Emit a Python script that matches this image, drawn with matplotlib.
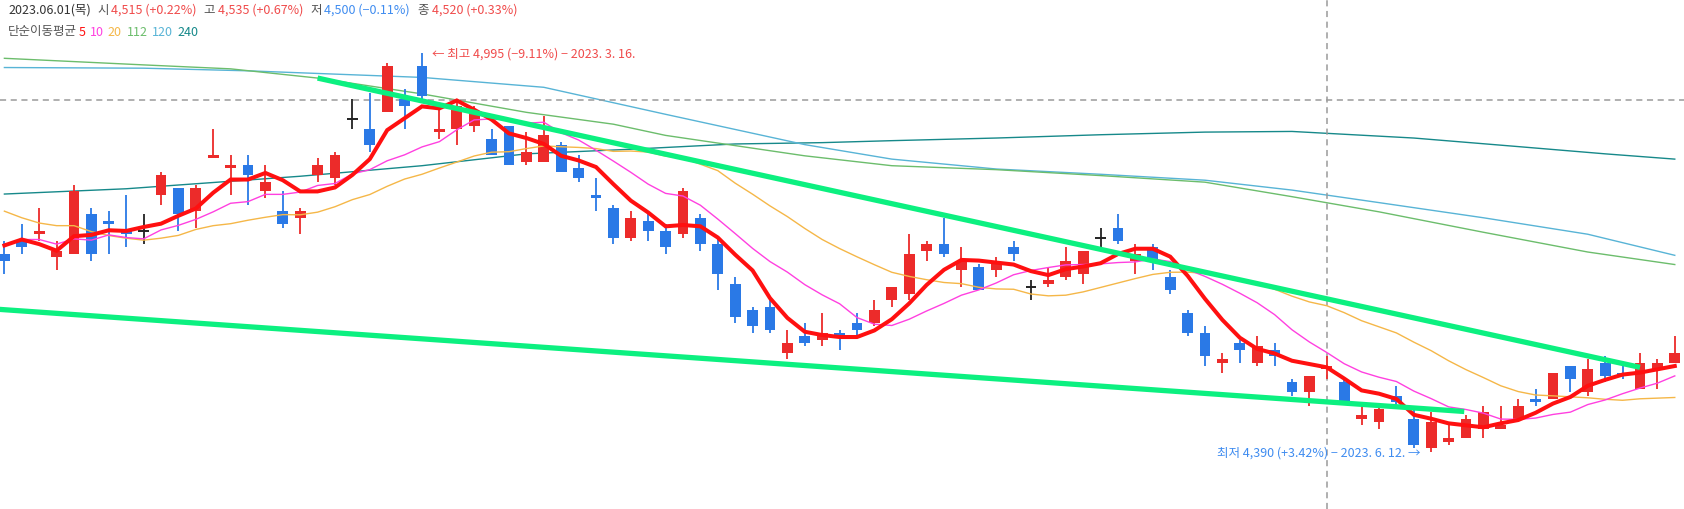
import numpy as np
import pandas as pd
import matplotlib
matplotlib.use('Agg')
import matplotlib.pyplot as plt

plt.rcParams['font.family'] = ['Noto Sans CJK KR', 'DejaVu Sans']

# Daily candles, 2023-02 .. 2023-06-30 (index 0 = first visible day)
opens = [4690, 4710, 4720, 4685, 4690, 4750, 4740, 4725, 4725, 4780,
         4790, 4755, 4835, 4820, 4825, 4785, 4755, 4745, 4810, 4805,
         4895, 4880, 4905, 4925, 4975, 4875, 4880, 4885, 4865, 4885,
         4830, 4830, 4855, 4820, 4780, 4760, 4715, 4740, 4725, 4720,
         4745, 4705, 4645, 4605, 4610, 4540, 4565, 4560, 4570, 4585,
         4585, 4620, 4630, 4695, 4705, 4665, 4670, 4665, 4700, 4640,
         4645, 4655, 4660, 4715, 4730, 4680, 4700, 4655, 4600, 4570,
         4525, 4555, 4525, 4545, 4495, 4480, 4515, 4495, 4440, 4435,
         4475, 4440, 4395, 4405, 4410, 4425, 4425, 4440, 4470, 4470,
         4520, 4480, 4525, 4510, 4485, 4515, 4525]
highs = [4710, 4735, 4760, 4710, 4795, 4760, 4755, 4780, 4750, 4815,
         4790, 4795, 4880, 4840, 4840, 4825, 4785, 4760, 4835, 4845,
         4925, 4935, 4980, 4940, 4995, 4915, 4925, 4915, 4880, 4885,
         4875, 4900, 4860, 4840, 4805, 4765, 4755, 4755, 4735, 4790,
         4750, 4715, 4655, 4610, 4620, 4575, 4585, 4600, 4575, 4600,
         4620, 4640, 4720, 4710, 4745, 4700, 4675, 4685, 4710, 4650,
         4670, 4700, 4695, 4730, 4750, 4705, 4705, 4665, 4605, 4580,
         4540, 4560, 4565, 4555, 4500, 4505, 4535, 4500, 4460, 4460,
         4490, 4455, 4450, 4430, 4445, 4460, 4460, 4470, 4485, 4510,
         4520, 4530, 4535, 4520, 4540, 4530, 4565]
lows = [4660, 4690, 4710, 4665, 4690, 4680, 4690, 4700, 4705, 4765,
        4725, 4730, 4835, 4780, 4765, 4775, 4730, 4720, 4800, 4795,
        4880, 4845, 4905, 4880, 4925, 4865, 4855, 4875, 4840, 4825,
        4825, 4830, 4815, 4800, 4755, 4705, 4710, 4710, 4690, 4715,
        4695, 4635, 4585, 4570, 4570, 4530, 4550, 4550, 4545, 4565,
        4580, 4610, 4620, 4680, 4685, 4640, 4635, 4655, 4680, 4620,
        4640, 4650, 4645, 4700, 4705, 4660, 4665, 4630, 4565, 4520,
        4510, 4525, 4520, 4520, 4475, 4460, 4500, 4465, 4430, 4425,
        4460, 4395, 4390, 4400, 4410, 4410, 4425, 4440, 4460, 4470,
        4480, 4475, 4495, 4500, 4485, 4485, 4525]
closes = [4680, 4700, 4725, 4695, 4785, 4690, 4735, 4720, 4725, 4810,
          4750, 4790, 4840, 4825, 4810, 4800, 4735, 4755, 4825, 4840,
          4895, 4855, 4975, 4915, 4930, 4880, 4915, 4905, 4840, 4825,
          4845, 4870, 4815, 4805, 4775, 4715, 4745, 4725, 4700, 4785,
          4705, 4660, 4595, 4580, 4575, 4555, 4555, 4570, 4565, 4575,
          4605, 4640, 4690, 4705, 4690, 4680, 4635, 4675, 4690, 4640,
          4650, 4680, 4695, 4715, 4710, 4690, 4680, 4635, 4570, 4535,
          4530, 4545, 4550, 4535, 4480, 4505, 4520, 4465, 4445, 4455,
          4465, 4400, 4435, 4410, 4440, 4450, 4430, 4460, 4465, 4510,
          4500, 4515, 4505, 4505, 4525, 4525, 4540]

# closes before the first visible day (needed for the 5/10/20 day averages)
prior_closes = [4900, 4885, 4775, 4785, 4870, 4855, 4800, 4785, 4750, 4665,
                4610, 4725, 4765, 4705, 4710, 4655, 4760, 4745, 4675]

# long moving averages (candle index, price)
ma112_idx = [0, 8, 13, 18, 24, 30, 35, 38, 46, 51, 57, 63, 69, 74, 79, 85, 91, 96]
ma112_val = [4987, 4977, 4971, 4957, 4933, 4905, 4887, 4870, 4839, 4824,
             4818, 4809, 4799, 4777, 4754, 4723, 4693, 4674]
ma120_idx = [0, 8, 14, 19, 24, 31, 38, 46, 51, 57, 63, 69, 74, 79, 85, 91, 96]
ma120_val = [4973, 4972, 4968, 4963, 4958, 4943, 4902, 4856, 4834, 4819,
             4811, 4802, 4787, 4768, 4745, 4720, 4688]
ma240_idx = [0, 7, 17, 24, 30, 36, 42, 47, 51, 57, 63, 69, 74, 81, 87, 92, 96]
ma240_val = [4781, 4789, 4808, 4824, 4842, 4849, 4857, 4859, 4862, 4866,
             4871, 4875, 4876, 4866, 4853, 4842, 4834]

# user-drawn trend lines: (index, price) end points
trend_upper = [(18.0, 4957), (94.0, 4518)]
trend_lower = [(-0.3, 4606), (83.9, 4451)]

hover_i = 76
hover_label = '2023.06.01(목)'
hi_i, hi_date = 24, '2023. 3. 16.'
lo_i, lo_date = 82, '2023. 6. 12.'

RED = '#ec2b2a'
BLUE = '#2a79e6'
TXT_RED = '#f04b4b'
TXT_BLUE = '#3f8cf0'
ma_colors = {5: '#ff1010', 10: '#ff40e0', 20: '#f5b748',
             112: '#6cbd6c', 120: '#58b4d6', 240: '#16898a'}

o = np.array(opens); h = np.array(highs); l = np.array(lows); c = np.array(closes)
n = len(c)
x = np.arange(n)

all_close = pd.Series(prior_closes + closes)
ma = {}
for w in (5, 10, 20):
    ma[w] = all_close.rolling(w).mean().values[len(prior_closes):]

fig = plt.figure(figsize=(16.84, 5.10), dpi=100)
ax = fig.add_axes([0, 0, 1, 1])
ax.axis('off')
ax.set_xlim(-0.253, 96.53)
ax.set_ylim(4303, 5077)

# long averages
ax.plot(ma240_idx, ma240_val, color=ma_colors[240], lw=1.0, zorder=1)
ax.plot(ma120_idx, ma120_val, color=ma_colors[120], lw=1.0, zorder=1)
ax.plot(ma112_idx, ma112_val, color=ma_colors[112], lw=1.0, zorder=1)

# crosshair
ax.axhline(4924, color='#9a9a9a', lw=1.1, ls=(0, (4, 3)), zorder=1)
ax.axvline(hover_i, color='#9a9a9a', lw=1.1, ls=(0, (4, 3)), zorder=1)

# candles
cols = np.where(c > o, RED, np.where(c < o, BLUE, '#222222'))
ax.vlines(x, l, h, colors=cols, lw=1.3, zorder=2)
body = np.abs(c - o)
ax.bar(x, body, bottom=np.minimum(o, c), width=0.62, color=cols, zorder=2)
flat = c == o
ax.hlines(c[flat], x[flat] - 0.31, x[flat] + 0.31, colors='#222222', lw=1.4, zorder=2)

# short averages
ax.plot(x, ma[20], color=ma_colors[20], lw=1.0, zorder=3)
ax.plot(x, ma[10], color=ma_colors[10], lw=1.0, zorder=3)
ax.plot(x, ma[5], color=ma_colors[5], lw=2.9, zorder=4, solid_joinstyle='miter')

# trend lines
for tl in (trend_upper, trend_lower):
    ax.plot([p[0] for p in tl], [p[1] for p in tl], color='#0cf080', lw=3.8,
            zorder=5, solid_capstyle='butt')

last = c[-1]
hi_val = h.max()
lo_val = l.min()


def pct(v, ref):
    return f'{(v / ref - 1) * 100:+.2f}%'.replace('-', '−')


ax.annotate(f'← 최고 {hi_val:,} ({pct(last, hi_val)}) − {hi_date}',
            xy=(hi_i, hi_val), xytext=(7, 0), textcoords='offset points',
            ha='left', va='center', fontsize=9, color=TXT_RED, zorder=6)
ax.annotate(f'최저 {lo_val:,} ({pct(last, lo_val)}) − {lo_date} →',
            xy=(lo_i, lo_val), xytext=(-8, 0), textcoords='offset points',
            ha='right', va='center', fontsize=9, color=TXT_BLUE, zorder=6)

# header
prev = c[hover_i - 1]
W, H = 1684.0, 510.0


def put(px, py, s, color):
    fig.text(px / W, 1 - py / H, s, ha='left', va='center', fontsize=9, color=color)


put(8, 10.5, hover_label, '#333333')
items = [('시', o[hover_i], 97, 111), ('고', h[hover_i], 203, 218),
         ('저', l[hover_i], 310, 324), ('종', c[hover_i], 417, 432)]
for lab, v, lx, vx in items:
    put(lx, 10.5, lab, '#555555')
    put(vx, 10.5, f'{v:,} ({pct(v, prev)})', TXT_RED if v >= prev else TXT_BLUE)

put(8, 32, '단순이동평균', '#555555')
for w, px in zip((5, 10, 20, 112, 120, 240), (78.5, 90, 107, 127, 152, 177)):
    put(px, 32, str(w), ma_colors[w])

fig.savefig('out.png', dpi=100)
